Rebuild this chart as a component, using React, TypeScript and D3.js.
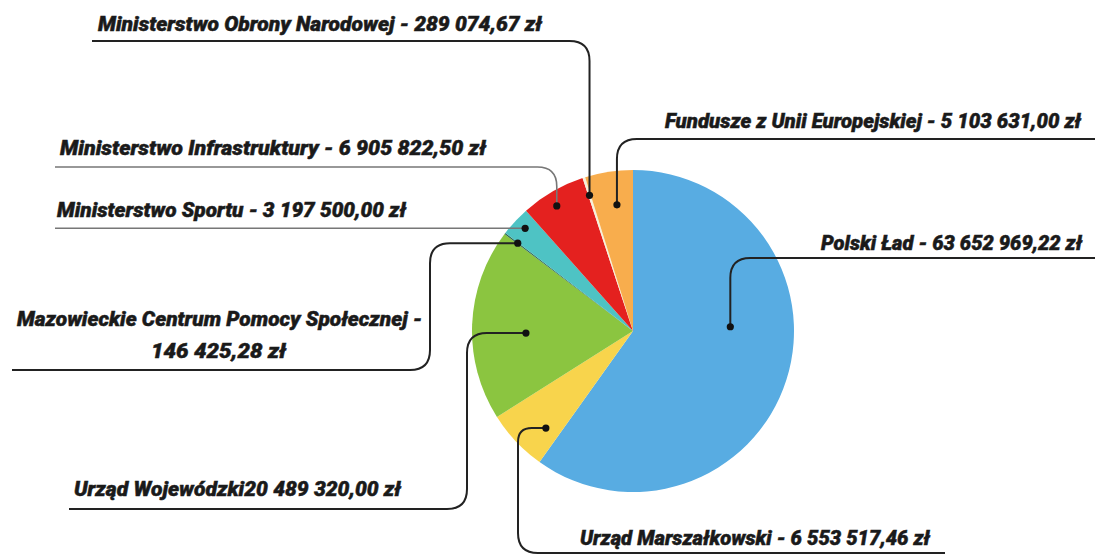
import React from "react";
import * as d3 from "d3";

const names = [
  "Polski Ład",
  "Urząd Marszałkowski",
  "Urząd Wojewódzki",
  "Mazowieckie Centrum Pomocy Społecznej",
  "Ministerstwo Sportu",
  "Ministerstwo Infrastruktury",
  "Ministerstwo Obrony Narodowej",
  "Fundusze z Unii Europejskiej",
];
const values = [63652969.22, 6553517.46, 20489320.0, 146425.28, 3197500.0, 6905822.5, 289074.67, 5103631.0];
const colors = ["#58ace2", "#f8d44c", "#8bc540", "#2f6b57", "#4ec3c4", "#e4211f", "#f7f0da", "#f8ad4d"];
const labelLines: string[][] = [
  ["Polski Ład - 63 652 969,22 zł"],
  ["Urząd Marszałkowski - 6 553 517,46 zł"],
  ["Urząd Wojewódzki20 489 320,00 zł"],
  ["Mazowieckie Centrum Pomocy Społecznej -", "146 425,28 zł"],
  ["Ministerstwo Sportu - 3 197 500,00 zł"],
  ["Ministerstwo Infrastruktury - 6 905 822,50 zł"],
  ["Ministerstwo Obrony Narodowej - 289 074,67 zł"],
  ["Fundusze z Unii Europejskiej - 5 103 631,00 zł"],
];

// layout of annotations
const anchorT = [0.406, 0.29, 0.45, 0.5, 0.56, 0.44, 0.5, 0.58];
const anchorR = [0.605, 0.81, 0.665, 0.9, 0.925, 0.91, 0.885, 0.79];
type Route = { type: string; x?: number; y?: number; xEnd: number };
const routes: Route[] = [
  { type: "vh", y: 258, xEnd: 1095 },
  { type: "hvh", x: 518, y: 553, xEnd: 945 },
  { type: "hvh", x: 467, y: 509, xEnd: 69 },
  { type: "hvh", x: 430, y: 370, xEnd: 12 },
  { type: "h", xEnd: 55 },
  { type: "vh", y: 167, xEnd: 55 },
  { type: "vh", y: 41, xEnd: 92 },
  { type: "vh", y: 139, xEnd: 1095 },
];
const textPos = [
  [{ x: 821, y: 250, w: 261 }],
  [{ x: 580, y: 545, w: 350 }],
  [{ x: 74, y: 496, w: 327 }],
  [{ x: 17, y: 326, w: 405 }, { x: 151, y: 358, w: 135 }],
  [{ x: 57, y: 217, w: 349 }],
  [{ x: 60, y: 155, w: 426 }],
  [{ x: 98, y: 31, w: 444 }],
  [{ x: 665, y: 128, w: 416 }],
];

const W = 1095;
const H = 554;
const cx = 633;
const cy = 331;
const R = 161;

function roundedPath(pts: [number, number][], r: number) {
  let d = `M${pts[0][0]},${pts[0][1]}`;
  for (let i = 1; i < pts.length - 1; i++) {
    const [px, py] = pts[i];
    const [ax, ay] = pts[i - 1];
    const [bx, by] = pts[i + 1];
    const la = Math.hypot(ax - px, ay - py);
    const lb = Math.hypot(bx - px, by - py);
    const rr = Math.min(r, la / 2, lb / 2);
    const sx = px + ((ax - px) / la) * rr;
    const sy = py + ((ay - py) / la) * rr;
    const ex = px + ((bx - px) / lb) * rr;
    const ey = py + ((by - py) / lb) * rr;
    d += ` L${sx},${sy} Q${px},${py} ${ex},${ey}`;
  }
  const last = pts[pts.length - 1];
  d += ` L${last[0]},${last[1]}`;
  return d;
}

export default function App() {
  const pie = d3
    .pie<number>()
    .sort(null)
    .value((v) => v)(values);
  const arc = d3.arc<d3.PieArcDatum<number>>().innerRadius(0).outerRadius(R);

  const anchors = pie.map((p, i) => {
    const a = p.startAngle + (p.endAngle - p.startAngle) * anchorT[i];
    const rr = R * anchorR[i];
    return [cx + Math.sin(a) * rr, cy - Math.cos(a) * rr] as [number, number];
  });

  const paths = anchors.map((pt, i) => {
    const rt = routes[i];
    let pts: [number, number][] = [pt];
    if (rt.type === "vh") pts = [pt, [pt[0], rt.y!], [rt.xEnd, rt.y!]];
    else if (rt.type === "h") pts = [pt, [rt.xEnd, pt[1]]];
    else pts = [pt, [rt.x!, pt[1]], [rt.x!, rt.y!], [rt.xEnd, rt.y!]];
    return roundedPath(pts, 20);
  });

  return (
    <svg width={W} height={H} style={{ position: "absolute", left: 0, top: 0, background: "#fff" }}>
      <g transform={`translate(${cx},${cy})`}>
        {pie.map((p, i) => (
          <path key={names[i]} d={arc(p) || ""} fill={colors[i]} />
        ))}
      </g>
      {paths.map((d, i) => (
        <path
          key={"l" + i}
          d={d}
          fill="none"
          stroke={i === 4 || i === 5 ? "#777" : "#222"}
          strokeWidth={i === 4 || i === 5 ? 1.6 : 2}
        />
      ))}
      {anchors.map((pt, i) => (
        <circle key={"c" + i} cx={pt[0]} cy={pt[1]} r={3.6} fill="#111" />
      ))}
      {labelLines.map((lines, i) =>
        lines.map((t, j) => (
          <text
            key={"t" + i + "-" + j}
            x={textPos[i][j].x}
            y={textPos[i][j].y}
            textLength={textPos[i][j].w}
            lengthAdjust="spacingAndGlyphs"
            fontFamily="Roboto, 'DejaVu Sans Condensed', sans-serif"
            fontWeight={900}
            fontStyle="italic"
            fontSize={21}
            fill="#1a1a1a"
            stroke="#1a1a1a"
            strokeWidth={0.5}
          >
            {t}
          </text>
        ))
      )}
    </svg>
  );
}
